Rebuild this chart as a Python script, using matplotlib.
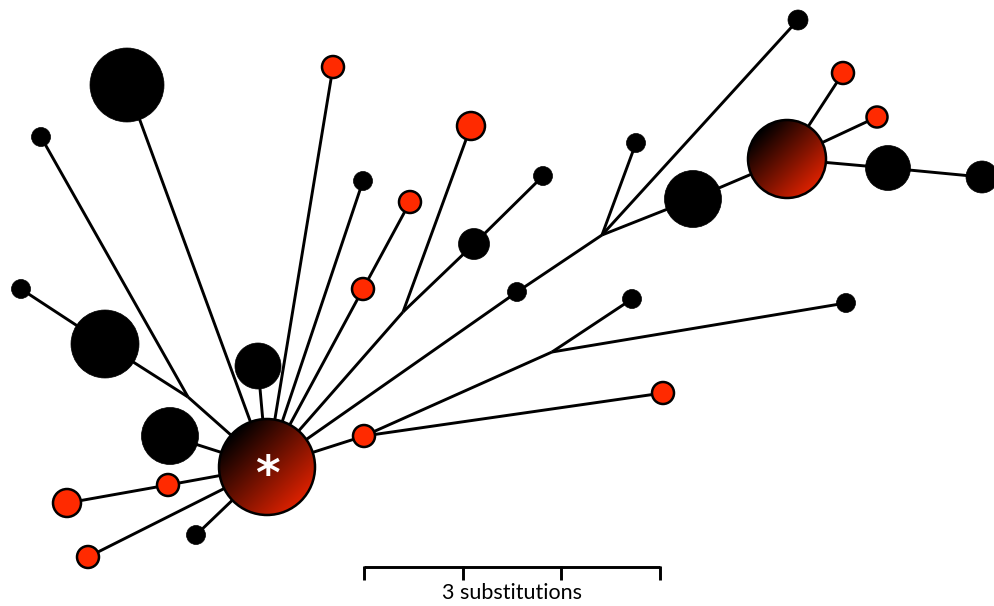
import matplotlib
matplotlib.use("Agg")
import matplotlib.pyplot as plt
from matplotlib.patches import Circle
import numpy as np

# haplotype nodes (pixel layout of the network), radius ~ frequency
node_x = [267, 787, 127, 105, 170, 258, 693, 888, 982, 474,
          41, 21, 196, 363, 543, 636, 798, 517, 632, 846,
          333, 471, 410, 363, 364, 663, 168, 67, 88, 843, 877,
          188, 403, 602, 552]
node_y = [467, 159, 85, 344, 436, 366, 199, 168, 177, 244,
          137, 289, 535, 181, 176, 143, 20, 292, 299, 303,
          67, 126, 202, 289, 436, 393, 485, 503, 557, 73, 117,
          397, 312, 235, 352]
node_r = [48, 39, 37, 34, 28.5, 23, 28.5, 22.5, 16, 15.5,
          9.5, 9.5, 9.5, 9.5, 9.5, 9.5, 10, 9.5, 9.5, 9.5,
          11, 14, 11, 11, 11, 11, 11, 14, 11, 11, 10.5,
          0, 0, 0, 0]
# g = shared (gradient), b = black, r = red, m = median vector
node_kind = ["g", "g"] + ["b"] * 18 + ["r"] * 11 + ["m"] * 4

edges = [(0, 2), (0, 31), (31, 10), (31, 3), (3, 11), (0, 4), (0, 5),
         (0, 20), (0, 13), (0, 23), (23, 22), (0, 32), (32, 21), (32, 9),
         (9, 14), (0, 17), (17, 33), (33, 15), (33, 16), (33, 6), (6, 1),
         (1, 29), (1, 30), (1, 7), (7, 8), (0, 24), (24, 25), (24, 34),
         (34, 18), (34, 19), (0, 26), (26, 27), (0, 28), (0, 12)]

scale_steps = [0, 1, 2, 3]
scale_label = "3 substitutions"

RED = "#ff2a00"


def gradient_node(ax, x, y, r):
    n = 200
    t = np.linspace(0, 1, n)
    gx, gy = np.meshgrid(t, t)
    v = (gx + gy) / 2
    v = np.clip((v - 0.15) / 0.7, 0, 1)
    img = np.zeros((n, n, 3))
    img[..., 0] = v * 0.86
    img[..., 1] = v * 0.13
    img[..., 2] = 0
    circ = Circle((x, y), r, facecolor="none", edgecolor="black", lw=1.8, zorder=4)
    ax.add_patch(circ)
    im = ax.imshow(img, extent=(x - r, x + r, y + r, y - r), origin="upper",
                   zorder=3, aspect="auto", interpolation="bilinear")
    im.set_clip_path(circ)


def main():
    fig = plt.figure(figsize=(9.95, 6.06), dpi=100)
    ax = fig.add_axes([0, 0, 1, 1])

    for a, b in edges:
        ax.plot([node_x[a], node_x[b]], [node_y[a], node_y[b]], '-',
                color="black", lw=2.1, zorder=1, solid_capstyle="butt")

    for x, y, r, k in zip(node_x, node_y, node_r, node_kind):
        if k == "b":
            ax.add_patch(Circle((x, y), r, facecolor="black", edgecolor="black", lw=0.5, zorder=2))
        elif k == "r":
            ax.add_patch(Circle((x, y), r, facecolor=RED, edgecolor="black", lw=1.8, zorder=2))
        elif k == "g":
            gradient_node(ax, x, y, r)

    ax.text(node_x[0], node_y[0] + 10, "*", color="white", fontsize=34,
            fontweight="bold", ha="center", va="center", zorder=5)

    # scale bar
    unit = 98.7
    x0, yb = 364, 566.5
    xs = [x0 + s * unit for s in scale_steps]
    ax.plot([xs[0], xs[-1]], [yb, yb], color="black", lw=2.1, solid_capstyle="butt")
    for xt in xs:
        ax.plot([xt, xt], [yb - 1, 580], color="black", lw=2.1, solid_capstyle="butt")
    ax.text((xs[0] + xs[-1]) / 2, 593, scale_label, fontsize=15.5, family="Lato",
            ha="center", va="center")

    ax.set_xlim(0, 995)
    ax.set_ylim(606, 0)
    ax.axis("off")
    fig.savefig("out.png", dpi=100)


if __name__ == '__main__':
    main()
